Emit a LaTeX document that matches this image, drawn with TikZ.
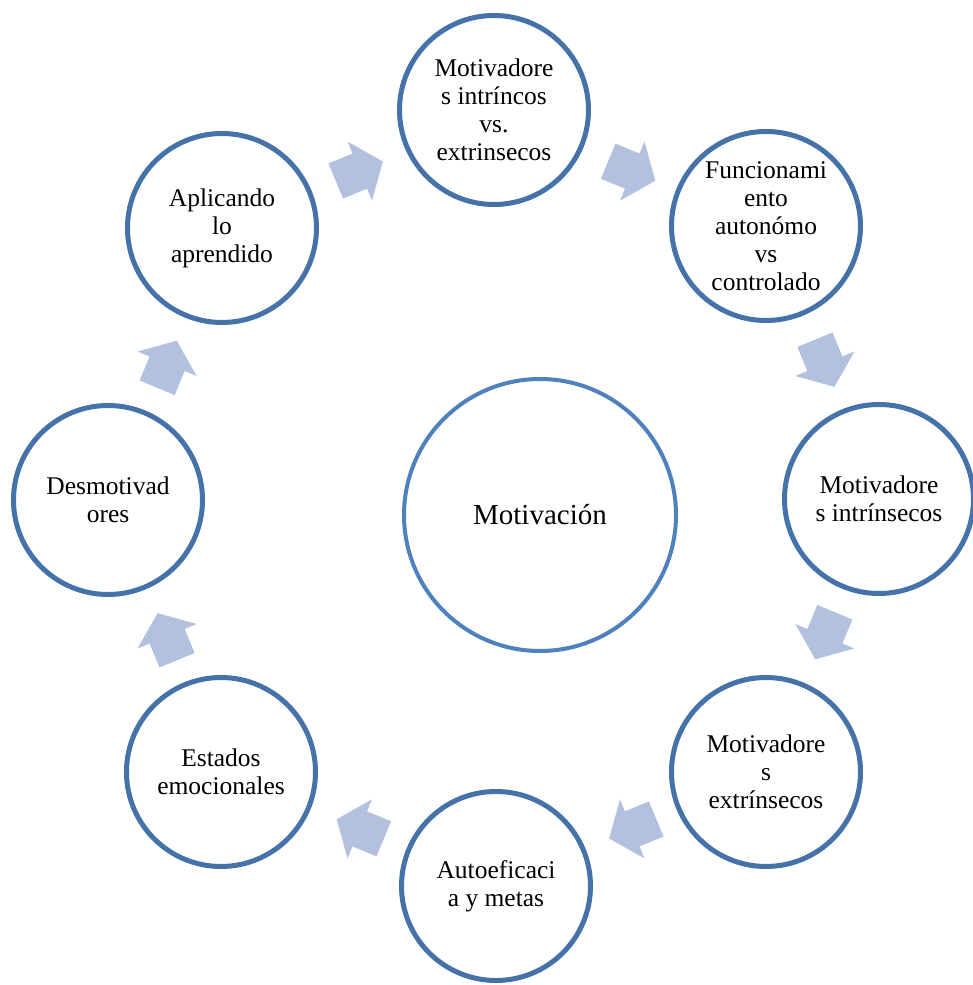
\documentclass[tikz,border=0pt]{standalone}
\usepackage{fontspec}
\setmainfont{Liberation Serif}
\definecolor{ringblue}{RGB}{70,114,170}
\definecolor{hubblue}{RGB}{79,129,189}
\definecolor{arrowfill}{RGB}{178,193,221}
\tikzset{
  stage/.style={circle, draw=ringblue, line width=5pt, fill=white, minimum size=189pt,
    inner sep=0pt, align=center, font=\fontsize{25.5}{28}\selectfont},
  hub/.style={circle, draw=hubblue, line width=4pt, fill=white, minimum size=272pt,
    inner sep=0pt, align=center, font=\fontsize{29}{32}\selectfont},
  blockarrow/.style={fill=arrowfill}
}
\begin{document}
\begin{tikzpicture}[x=1pt,y=1pt]
\useasboundingbox (0,0) rectangle (972,985);
% centre
\node[hub] (hub) at (540,470) {Motivación};
% ring of stages
\node[stage] (s1) at (494,875) {Motivadore\\s intríncos\\vs.\\extrinsecos};
\node[stage] (s2) at (766,759) {Funcionami\\ento\\autonómo\\vs\\controlado};
\node[stage] (s3) at (879,486) {Motivadore\\s intrínsecos};
\node[stage] (s4) at (766,213) {Motivadore\\s\\extrínsecos};
\node[stage] (s5) at (496,99) {Autoeficaci\\a y metas};
\node[stage] (s6) at (221,213) {Estados\\emocionales};
\node[stage] (s7) at (108,485) {Desmotivad\\ores};
\node[stage] (s8) at (222,757) {Aplicando\\lo\\aprendido};
% block arrows between stages (clockwise)
\coordinate (ringc) at (496,485);
\foreach \a in {112.5,67.5,22.5,-22.5,-67.5,-112.5,-157.5,157.5}{
  \begin{scope}[shift={(ringc)}, rotate=\a, xshift=356pt, rotate=-90]
    \fill[blockarrow] (-26,19) -- (0,19) -- (0,32) -- (25,0) -- (0,-32) -- (0,-19) -- (-26,-19) -- cycle;
  \end{scope}
}
\end{tikzpicture}
\end{document}
